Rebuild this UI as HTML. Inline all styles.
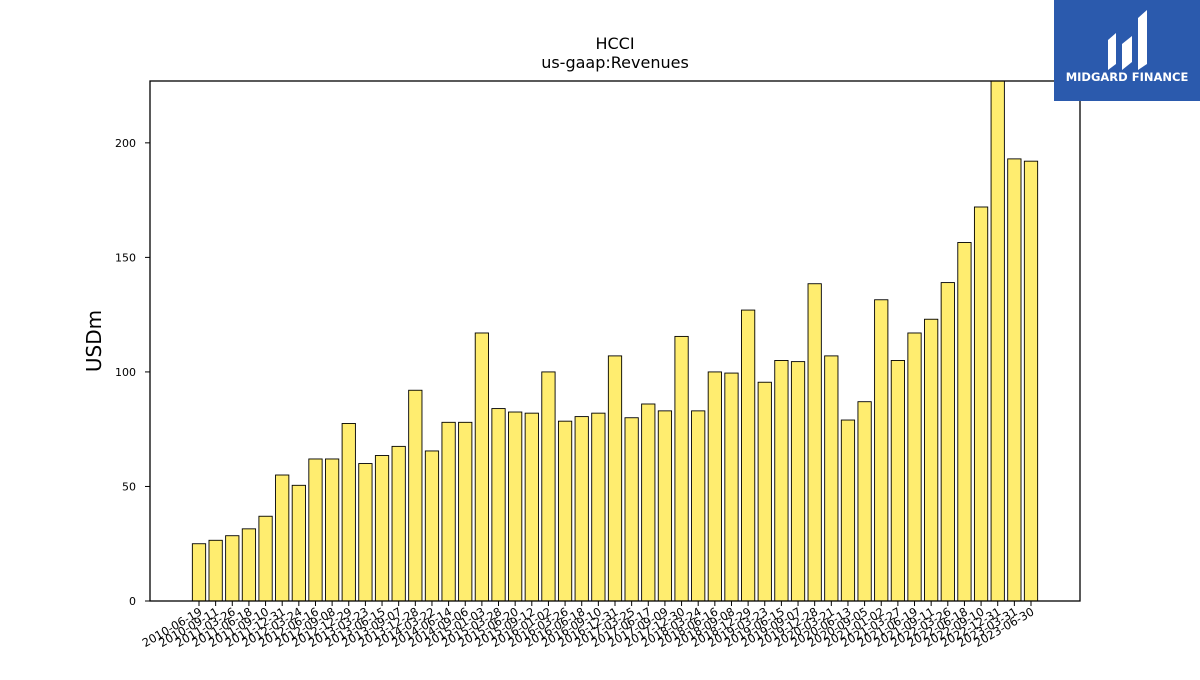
<!DOCTYPE html>
<html><head><meta charset="utf-8"><style>
body{margin:0;background:#fff;font-family:"Liberation Sans","DejaVu Sans",sans-serif}
</style></head><body>
<svg width="1200" height="675" xmlns="http://www.w3.org/2000/svg" font-family="DejaVu Sans, Liberation Sans, sans-serif">
<rect width="1200" height="675" fill="#fff"/>
<text x="615" y="49" text-anchor="middle" font-size="16">HCCI</text>
<text x="615" y="68" text-anchor="middle" font-size="16">us-gaap:Revenues</text>
<text transform="translate(101,341) rotate(-90)" text-anchor="middle" font-size="20">USDm</text>
<g id="bars"></g><g id="yt"></g><g id="xt"></g>
<rect x="150" y="81" width="930" height="520" fill="none" stroke="#000" stroke-width="1.3"/>
<g>
<rect x="1054" y="0" width="146" height="101" fill="#2b5aad"/>
<path d="M1108 70 L1108 40 L1116 33 L1116 64 Z M1122 70 L1122 44 L1132 36 L1132 62 Z M1138 70 L1138 18 L1147 10 L1147 64 Z" fill="#fff"/>
<text x="1127" y="81" text-anchor="middle" font-size="11.5" font-weight="bold" fill="#fff">MIDGARD FINANCE</text>
</g>
</svg>
<script>
const categories=["2010-06-19","2010-09-11","2011-03-26","2011-06-18","2011-09-10","2011-12-31","2012-03-24","2012-06-16","2012-09-08","2012-12-29","2013-03-23","2013-06-15","2013-09-07","2013-12-28","2014-03-22","2014-06-14","2014-09-06","2015-01-03","2015-03-28","2015-06-20","2015-09-12","2016-01-02","2016-03-26","2016-06-18","2016-09-10","2016-12-31","2017-03-25","2017-06-17","2017-09-09","2017-12-30","2018-03-24","2018-06-16","2018-09-08","2018-12-29","2019-03-23","2019-06-15","2019-09-07","2019-12-28","2020-03-21","2020-06-13","2020-09-05","2021-01-02","2021-03-27","2021-06-19","2021-09-11","2022-03-26","2022-06-18","2022-09-10","2022-12-31","2023-03-31","2023-06-30"];
const revenues=[25,26.5,28.5,31.5,37,55,50.5,62,62,77.5,60,63.5,67.5,92,65.5,78,78,117,84,82.5,82,100,78.5,80.5,82,107,80,86,83,115.5,83,100,99.5,127,95.5,105,104.5,138.5,107,79,87,131.5,105,117,123,139,156.5,172,228,193,192];
const yTicks=[0,50,100,150,200];
const NS="http://www.w3.org/2000/svg";
const y0=601,yMax=227,pxPer=(601-81)/yMax;
const yS=v=>y0-Math.min(v,yMax)*pxPer;
const x0=199,x1=1031,step=(x1-x0)/(categories.length-1),bw=step*0.8;
const xS=i=>x0+i*step;
function mk(t,a,p){const e=document.createElementNS(NS,t);for(const k in a)e.setAttribute(k,a[k]);p.appendChild(e);return e;}
const gb=document.getElementById('bars'),gy=document.getElementById('yt'),gx=document.getElementById('xt');
revenues.forEach((v,i)=>{
 const r=mk('rect',{x:xS(i)-bw/2,y:yS(v),width:bw,height:y0-yS(v),fill:'#ffed6f',stroke:'#000','stroke-width':0.9},gb);
 
 
});
yTicks.forEach(t=>{
 const y=yS(t);
 const l=mk('line',{x1:145,x2:150,y1:y,y2:y,stroke:'#000'},gy);
 
 
 const tx=mk('text',{x:136,y:y+4,'text-anchor':'end','font-size':11},gy);
 tx.textContent=t;
 
 
});
categories.forEach((c,i)=>{
 const x=xS(i);
 const l=mk('line',{x1:x,x2:x,y1:601,y2:606,stroke:'#000'},gx);
 
 
 const tx=mk('text',{transform:`translate(${x+4},614) rotate(-30)`,'text-anchor':'end','font-size':11.5},gx);
 tx.textContent=c;
 
 
});
</script>
</body></html>
